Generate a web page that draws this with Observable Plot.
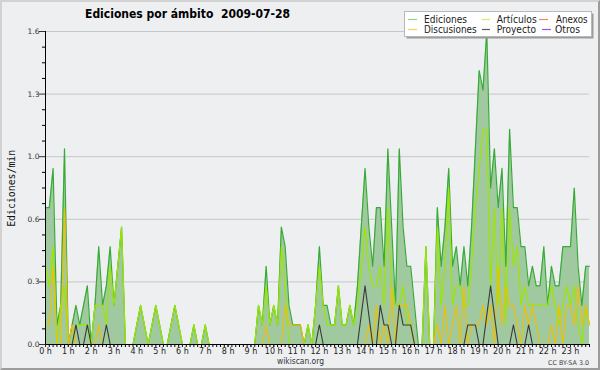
<!DOCTYPE html>
<html>
<head>
<meta charset="utf-8">
<script src="https://cdn.jsdelivr.net/npm/d3@7"></script>
<script src="https://cdn.jsdelivr.net/npm/@observablehq/plot@0.6"></script>
<style>
  html, body { margin: 0; padding: 0; background: #eeeff1; }
  #chart { position: relative; width: 600px; height: 370px; background: #eeeff1; overflow: hidden; }
  #chart > svg { position: absolute; left: 0; top: 0; }
  #frame { position: absolute; left: 0; top: 0; width: 600px; height: 370px; box-sizing: border-box;
           border: 2px solid; border-color: #d2d2d2 #9c9c9c #9c9c9c #d2d2d2; pointer-events: none; }
</style>
</head>
<body>
<div id="chart"></div>
<script>
// ---- data (edits per minute, 10-minute steps, 2009-07-28) ----
const title = "Ediciones por ámbito  2009-07-28";
const yLabel = "Ediciones/min";
const seriesNames = ["Ediciones", "Artículos", "Anexos", "Discusiones", "Proyecto", "Otros"];

const ediciones = [
  0.7,0.7,0.9,0.1,0.2,1.0,  0.0,0.1,0.2,0.1,0.2,0.3,  0.0,0.2,0.5,0.2,0.3,0.5,  0.2,0.4,0.6,0.0,0.0,0.0,
  0.1,0.2,0.1,0.0,0.1,0.2,  0.1,0.0,0.0,0.1,0.2,0.1,  0.0,0.0,0.0,0.1,0.0,0.0,  0.1,0.0,0.0,0.0,0.0,0.0,
  0.0,0.0,0.0,0.0,0.0,0.0,  0.0,0.0,0.2,0.1,0.4,0.1,  0.2,0.1,0.6,0.5,0.2,0.1,  0.1,0.1,0.0,0.1,0.0,0.2,
  0.5,0.2,0.2,0.1,0.1,0.3,  0.1,0.1,0.2,0.1,0.3,0.6,  0.9,0.6,0.4,0.7,0.7,0.4,  1.0,0.6,0.2,1.0,0.6,0.4,
  0.4,0.2,0.0,0.0,0.5,0.0,  0.0,0.7,0.4,0.6,0.9,0.4,  0.5,0.3,0.5,0.3,0.6,1.0,  1.4,1.3,1.6,0.8,1.0,0.7,
  0.9,0.4,1.1,0.7,0.7,0.5,  0.5,0.3,0.4,0.3,0.3,0.5,  0.2,0.4,0.3,0.3,0.5,0.5,  0.5,0.8,0.4,0.2,0.4,0.4
];
const articulos = [
  0.4,0.3,0.5,0.0,0.2,0.3,  0.0,0.0,0.1,0.1,0.1,0.1,  0.0,0.2,0.2,0.2,0.1,0.4,  0.2,0.4,0.6,0.0,0.0,0.0,
  0.1,0.2,0.1,0.0,0.1,0.2,  0.1,0.0,0.0,0.1,0.2,0.1,  0.0,0.0,0.0,0.1,0.0,0.0,  0.1,0.0,0.0,0.0,0.0,0.0,
  0.0,0.0,0.0,0.0,0.0,0.0,  0.0,0.0,0.2,0.1,0.3,0.1,  0.2,0.1,0.5,0.3,0.0,0.0,  0.0,0.0,0.0,0.1,0.0,0.2,
  0.4,0.2,0.1,0.1,0.1,0.3,  0.1,0.1,0.2,0.1,0.2,0.4,  0.6,0.4,0.3,0.3,0.4,0.2,  0.7,0.3,0.2,0.2,0.3,0.1,
  0.1,0.0,0.0,0.0,0.5,0.0,  0.0,0.6,0.2,0.4,0.8,0.2,  0.3,0.3,0.2,0.2,0.4,0.7,  0.9,1.1,1.1,0.3,0.7,0.2,
  0.7,0.1,0.7,0.4,0.5,0.2,  0.3,0.2,0.2,0.2,0.2,0.2,  0.2,0.3,0.2,0.1,0.2,0.3,  0.2,0.3,0.1,0.0,0.2,0.1
];
const discusiones = [
  0.1,0.1,0.4,0.0,0.0,0.7,  0.0,0.1,0.0,0.0,0.0,0.0,  0.0,0.0,0.1,0.0,0.0,0.0,  0.0,0.0,0.0,0.0,0.0,0.0,
  0.0,0.0,0.0,0.0,0.0,0.0,  0.0,0.0,0.0,0.0,0.0,0.0,  0.0,0.0,0.0,0.0,0.0,0.0,  0.0,0.0,0.0,0.0,0.0,0.0,
  0.0,0.0,0.0,0.0,0.0,0.0,  0.0,0.0,0.0,0.0,0.1,0.0,  0.0,0.0,0.0,0.2,0.1,0.1,  0.1,0.1,0.0,0.0,0.0,0.0,
  0.0,0.0,0.0,0.0,0.0,0.0,  0.0,0.0,0.0,0.0,0.0,0.0,  0.0,0.1,0.0,0.2,0.0,0.1,  0.0,0.3,0.0,0.2,0.2,0.2,
  0.1,0.0,0.0,0.0,0.0,0.0,  0.0,0.1,0.0,0.2,0.0,0.1,  0.2,0.0,0.3,0.0,0.1,0.1,  0.1,0.2,0.1,0.2,0.0,0.4,
  0.1,0.3,0.2,0.2,0.1,0.0,  0.2,0.1,0.2,0.1,0.0,0.0,  0.0,0.1,0.0,0.2,0.0,0.2,  0.2,0.1,0.3,0.1,0.2,0.1
];
const proyecto = [
  0.0,0.0,0.0,0.0,0.0,0.0,  0.0,0.0,0.1,0.0,0.0,0.1,  0.0,0.0,0.0,0.0,0.1,0.0,  0.0,0.0,0.0,0.0,0.0,0.0,
  0.0,0.0,0.0,0.0,0.0,0.0,  0.0,0.0,0.0,0.0,0.0,0.0,  0.0,0.0,0.0,0.0,0.0,0.0,  0.0,0.0,0.0,0.0,0.0,0.0,
  0.0,0.0,0.0,0.0,0.0,0.0,  0.0,0.0,0.0,0.0,0.0,0.0,  0.0,0.0,0.0,0.0,0.0,0.0,  0.0,0.0,0.0,0.0,0.0,0.0,
  0.1,0.0,0.0,0.0,0.0,0.0,  0.0,0.0,0.0,0.0,0.0,0.15, 0.3,0.15,0.0,0.0,0.2,0.1, 0.1,0.0,0.0,0.2,0.1,0.1,
  0.1,0.0,0.0,0.0,0.0,0.0,  0.0,0.0,0.0,0.0,0.0,0.0,  0.0,0.0,0.0,0.1,0.1,0.1,  0.0,0.0,0.15,0.3,0.15,0.0,
  0.0,0.0,0.0,0.1,0.0,0.0,  0.0,0.1,0.0,0.0,0.0,0.0,  0.0,0.0,0.0,0.0,0.0,0.0,  0.0,0.0,0.0,0.0,0.0,0.0
];
const yTickValues = [0, 0.32, 0.64, 0.96, 1.28, 1.6];
const yMinorTicks = [0.08,0.16,0.24,0.40,0.48,0.56,0.72,0.80,0.88,1.04,1.12,1.20,1.36,1.44,1.52];
const hourTickLabels = ["0 h","1 h","2 h","3 h","4 h","5 h","6 h","7 h","8 h","9 h","10 h","11 h",
                        "12 h","13 h","14 h","15 h","16 h","17 h","18 h","19 h","20 h","21 h","22 h","23 h"];
const seriesColors = {E: "#36ab36", A: "#9de600", D: "#f0c000", P: "#3a3a3a"};

// ---- build ----
const N = ediciones.length;
const rows = ediciones.map((e, i) => ({i, E: e, A: articulos[i], D: discusiones[i], P: proyecto[i]}));
const hourTicks = hourTickLabels.map((_, h) => h * 6);
const allSteps = rows.map(r => r.i);

const plot = Plot.plot({
  width: 600, height: 370,
  marginLeft: 45, marginRight: 11, marginTop: 31, marginBottom: 26,
  x: {domain: [0, N - 1], axis: null},
  y: {domain: [0, 1.6], axis: null},
  style: {background: "transparent", fontFamily: "'DejaVu Sans', sans-serif", overflow: "visible"},
  marks: [
    Plot.ruleY(yTickValues.slice(1), {stroke: "#c6c7c9"}),
    Plot.areaY(rows, {x: "i", y: "E", fill: "#a0c9a0"}),
    Plot.lineY(rows, {x: "i", y: "E", stroke: seriesColors.E, strokeWidth: 1.2}),
    Plot.lineY(rows, {x: "i", y: "A", stroke: seriesColors.A, strokeWidth: 1.2}),
    Plot.lineY(rows, {x: "i", y: "D", stroke: seriesColors.D, strokeWidth: 1.1}),
    Plot.lineY(rows, {x: "i", y: "P", stroke: seriesColors.P, strokeWidth: 1.1}),
    Plot.ruleY([0], {x1: -1.5, x2: N - 1, stroke: "#000"}),
    Plot.ruleX([0], {y1: 0, y2: 1.6, stroke: "#000"}),
    Plot.axisY({ticks: yMinorTicks, tickSize: 3, tickFormat: () => "", label: null, color: "#000"}),
    Plot.axisY({ticks: yTickValues, tickSize: 6, tickPadding: 0, tickFormat: d => d.toFixed(1),
                fontSize: 7.5, label: null, color: "#333"}),
    Plot.axisX({ticks: allSteps, tickSize: 3, tickFormat: () => "", label: null, color: "#000"}),
    Plot.axisX({ticks: hourTicks, tickSize: 3, tickPadding: 1, tickFormat: i => hourTickLabels[i / 6],
                fontSize: 8, label: null, color: "#222"})
  ]
});
const chart = document.getElementById("chart");
chart.appendChild(plot);

// ---- overlay: title, legend, labels ----
const ov = d3.select(chart).append("svg")
  .attr("width", 600).attr("height", 370)
  .style("font-family", "'DejaVu Sans', sans-serif");

ov.append("text").attr("x", 85).attr("y", 18.3)
  .attr("font-weight", "bold").attr("font-size", 13).attr("fill", "#000")
  .attr("textLength", 205).attr("lengthAdjust", "spacingAndGlyphs")
  .style("white-space", "pre").text(title);

ov.append("text")
  .attr("transform", "translate(14.5,188.3) rotate(-90)")
  .attr("text-anchor", "middle").attr("font-size", 10)
  .attr("font-family", "'DejaVu Sans Mono', monospace").attr("fill", "#111")
  .attr("textLength", 77).attr("lengthAdjust", "spacingAndGlyphs")
  .text(yLabel);

ov.append("text").attr("x", 300.5).attr("y", 364.3).attr("text-anchor", "middle")
  .attr("font-size", 8).attr("fill", "#333")
  .attr("textLength", 47).attr("lengthAdjust", "spacingAndGlyphs").text("wikiscan.org");

ov.append("text").attr("x", 589).attr("y", 364.8).attr("text-anchor", "end")
  .attr("font-size", 6.5).attr("fill", "#444")
  .attr("textLength", 41).attr("lengthAdjust", "spacingAndGlyphs").text("CC BY-SA 3.0");

// legend box
ov.append("rect").attr("x", 406.5).attr("y", 13.5).attr("width", 187).attr("height", 25).attr("fill", "#9c9c9c");
ov.append("rect").attr("x", 404.5).attr("y", 11.5).attr("width", 187).attr("height", 25)
  .attr("fill", "#ffffff").attr("stroke", "#b8b8b8");

const legendItems = [
  {name: seriesNames[0], color: "#8fd18f", sx: 408, sw: 9, y: 19.5, tx: 424, tw: 43, by: 22.7},
  {name: seriesNames[1], color: "#cfee5c", sx: 482, sw: 8, y: 19.5, tx: 496.7, tw: 40, by: 22.7},
  {name: seriesNames[2], color: "#f08a5c", sx: 539, sw: 9, y: 19.5, tx: 556, tw: 31.7, by: 22.7},
  {name: seriesNames[3], color: "#f5d451", sx: 408, sw: 9, y: 29.5, tx: 424, tw: 52.7, by: 32.7},
  {name: seriesNames[4], color: "#5a5a5a", sx: 482, sw: 8, y: 29.5, tx: 496.7, tw: 39.3, by: 32.7},
  {name: seriesNames[5], color: "#a050ee", sx: 542, sw: 9, y: 29.5, tx: 555, tw: 25, by: 32.7}
];
legendItems.forEach(d => {
  ov.append("line").attr("x1", d.sx).attr("x2", d.sx + d.sw).attr("y1", d.y).attr("y2", d.y)
    .attr("stroke", d.color).attr("stroke-width", 1.2);
  ov.append("text").attr("x", d.tx).attr("y", d.by).attr("font-size", 10).attr("fill", "#222")
    .attr("textLength", d.tw).attr("lengthAdjust", "spacingAndGlyphs").text(d.name);
});

const frame = document.createElement("div");
frame.id = "frame";
chart.appendChild(frame);
</script>
</body>
</html>
